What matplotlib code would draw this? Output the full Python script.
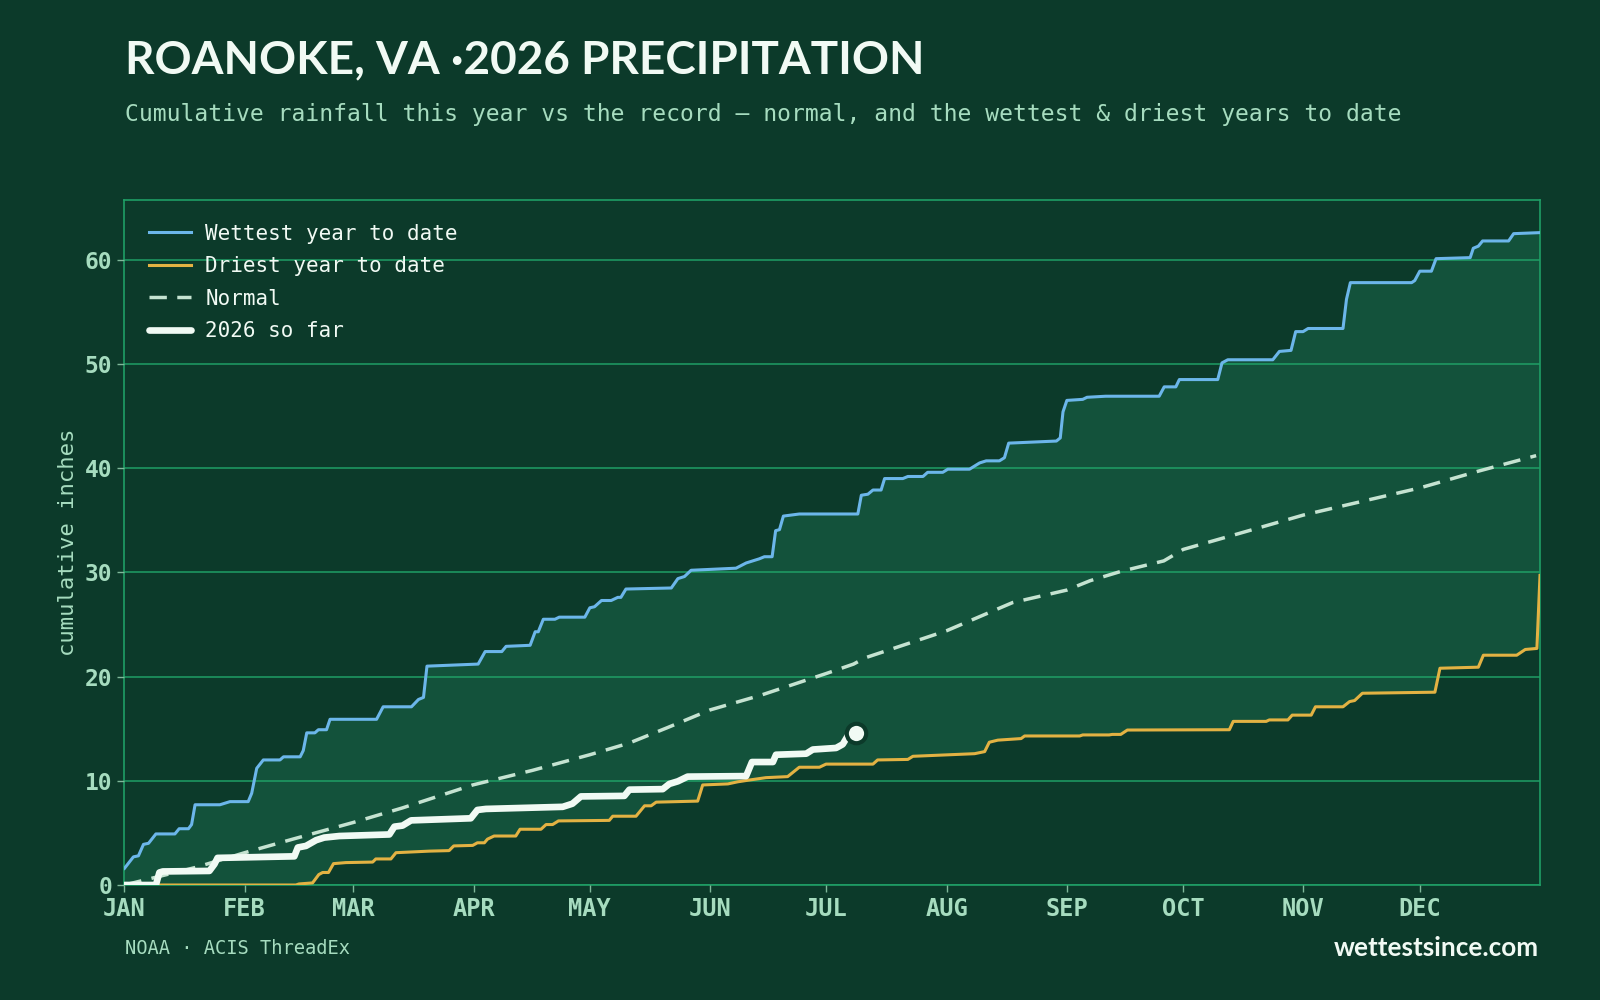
import numpy as np
import matplotlib
matplotlib.use("Agg")
import matplotlib.pyplot as plt

# cumulative inches (day of year, value)
wet_days = [0, 2.3, 3.6, 4.9, 6.2, 8.1, 13.0, 14.1, 16.5, 17.3, 18.2, 24.6, 27.2, 31.9, 32.8, 34.1,
            35.8, 40.1, 41, 45.3, 46.1, 47, 49.1, 50, 52.1, 53, 65, 66.7, 74, 75.8, 77.1, 78, 91.2,
            93, 97.3, 98.4, 104.6, 105.9, 106.7, 108, 111, 112.1, 118.7, 120, 121.2, 123, 125.5,
            127.2, 128, 129.3, 141, 142.7, 144.4, 146.1, 157.7, 160.3, 163.7, 165, 167, 167.9, 168.9,
            169.9, 174, 189.1, 190, 191.7, 193, 195.1, 196, 200.7, 202, 205.9, 207.1, 211, 212.3,
            217.9, 220.5, 222.2, 225.6, 226.9, 228, 240.3, 241.3, 242, 243, 247.1, 248.2, 253, 266.8,
            268.1, 271.1, 272, 281.9, 283, 284.5, 296.1, 297.8, 300.8, 302, 303.9, 305.2, 314.2,
            315.1, 316.1, 331.9, 332.7, 334, 337, 338.2, 347, 347.8, 349.1, 350.2, 356.9, 358.2, 365]
wet_vals = [1.6, 2.7, 2.8, 3.9, 4.0, 4.9, 4.9, 5.4, 5.4, 5.8, 7.7, 7.7, 8.0, 8.0, 8.8, 11.2,
            12.0, 12.0, 12.3, 12.3, 12.9, 14.6, 14.6, 14.9, 14.9, 15.9, 15.9, 17.1, 17.1, 17.8, 18.0, 21.0, 21.2,
            22.4, 22.4, 22.9, 23.0, 24.3, 24.3, 25.5, 25.5, 25.7, 25.7, 26.6, 26.7, 27.3, 27.3,
            27.6, 27.6, 28.4, 28.5, 29.4, 29.6, 30.2, 30.4, 30.9, 31.3, 31.5, 31.5, 34.0, 34.1,
            35.4, 35.6, 35.6, 37.4, 37.5, 37.9, 37.9, 39.0, 39.0, 39.2, 39.2, 39.6, 39.6, 39.9,
            39.9, 40.5, 40.7, 40.7, 41.0, 42.4, 42.6, 42.9, 45.4, 46.5, 46.6, 46.8, 46.9, 46.9,
            47.8, 47.8, 48.5, 48.5, 50.1, 50.4, 50.4, 51.2, 51.3, 53.1, 53.1, 53.4, 53.4,
            56.2, 57.8, 57.8, 58.0, 58.9, 58.9, 60.1, 60.2, 61.1, 61.3, 61.8, 61.8, 62.5, 62.6]

dry_days = [0, 44.2, 45, 48.5, 50.1, 51.1, 52.6, 53.9, 57.1, 64, 64.8, 68.7, 70, 78.6, 83.7, 84.9,
            89.8, 91, 92.8, 93.6, 95.3, 100.9, 102, 107.4, 108.7, 110.4, 111.9, 125, 125.9, 131.9,
            134.1, 135.8, 137.1, 147.8, 149.1, 155.6, 158.1, 160.7, 165.4, 171, 174, 179.2, 180.9,
            193, 194.2, 202, 203.3, 219.2, 221.8, 223, 225.2, 231.2, 232.1, 246.3, 247.1, 253.9,
            254.7, 256.9, 258.6, 284.9, 285.9, 294.4, 295.2, 300, 301.1, 306, 307.1, 314.2, 315.9,
            317.2, 319.2, 337.9, 339.2, 349.1, 350.4, 359, 361.2, 364.2, 365]
dry_vals = [0, 0, 0.1, 0.2, 1.0, 1.2, 1.2, 2.05, 2.15, 2.2, 2.5, 2.5, 3.1, 3.25, 3.3, 3.75,
            3.8, 4.05, 4.05, 4.4, 4.7, 4.7, 5.35, 5.35, 5.8, 5.8, 6.15, 6.2, 6.6, 6.6,
            7.6, 7.6, 7.95, 8.05, 9.6, 9.7, 9.9, 10.05, 10.3, 10.4, 11.3, 11.3, 11.6,
            11.6, 12.0, 12.05, 12.35, 12.6, 12.8, 13.7, 13.9, 14.05, 14.3, 14.3, 14.4, 14.4,
            14.45, 14.45, 14.87, 14.9, 15.7, 15.7, 15.84, 15.84, 16.3, 16.3, 17.1, 17.1, 17.6,
            17.7, 18.4, 18.5, 20.8, 20.9, 22.05, 22.05, 22.6, 22.7, 29.7]

normal_days = [0, 18.5, 31, 43.4, 59, 71.7, 89.8, 105.2, 120, 130, 140, 151, 164, 181, 188, 191,
               212, 229, 243, 249, 257, 268, 273, 289, 304, 319, 334, 349, 364]
normal_vals = [0.0, 1.7, 3.1, 4.4, 6.0, 7.4, 9.6, 11.0, 12.5, 13.6, 15.1, 16.8, 18.2, 20.3, 21.2, 21.8,
               24.4, 27.1, 28.3, 29.2, 30.1, 31.1, 32.2, 33.9, 35.5, 36.8, 38.1, 39.7, 41.2]

cur_days = [0, 8.1, 9, 9.9, 21.9, 23.2, 24, 43.8, 44.7, 46.8, 49.4, 51.5, 55.4, 68.3, 69.6, 71.7,
            73.9, 89.3, 91, 93.2, 113, 115.5, 117.7, 128.9, 130.2, 138.8, 140.5, 142.7, 145.2,
            160.3, 161.8, 167.2, 168, 175.8, 177.5, 183.5, 185.2, 186.5, 188.5]
cur_vals = [0, 0, 1.2, 1.3, 1.35, 2.0, 2.6, 2.75, 3.6, 3.75, 4.3, 4.55, 4.7, 4.85, 5.6, 5.7,
            6.2, 6.4, 7.2, 7.3, 7.5, 7.8, 8.5, 8.55, 9.15, 9.2, 9.7, 9.95, 10.4,
            10.45, 11.8, 11.8, 12.5, 12.6, 13.0, 13.15, 13.5, 14.3, 14.6]

month_starts = [0, 31, 59, 90, 120, 151, 181, 212, 243, 273, 304, 334]
month_labels = ["JAN", "FEB", "MAR", "APR", "MAY", "JUN", "JUL", "AUG", "SEP", "OCT", "NOV", "DEC"]

BG = "#0c3a2a"
BAND = "#13523b"
GRID = "#1f9e66"
MINT = "#a6dcbf"
WHITE = "#f1faf4"
MONO = "DejaVu Sans Mono"
HEAD = "Lato"

fig = plt.figure(figsize=(16, 10), dpi=100, facecolor=BG)
ax = fig.add_axes([0.0778, 0.115, 0.8847, 0.685])
ax.set_facecolor(BG)

# band between driest and wettest
ax.fill(np.concatenate([wet_days, dry_days[::-1]]),
        np.concatenate([wet_vals, dry_vals[::-1]]),
        color=BAND, lw=0, zorder=1)

ax.plot(wet_days, wet_vals, color="#6cb6ea", lw=2.2, zorder=4, label="Wettest year to date")
ax.plot(dry_days, dry_vals, color="#e3b243", lw=2.2, zorder=4, label="Driest year to date")
ax.plot(normal_days, normal_vals, color="#c5e3d1", lw=2.5, dashes=(5, 3), zorder=4, label="Normal")
ax.plot(cur_days, cur_vals, color=WHITE, lw=4.8, zorder=5, solid_capstyle="round",
        solid_joinstyle="round", label="2026 so far")
ax.plot(cur_days[-1:], cur_vals[-1:], "o", ms=14, mfc=WHITE, mec=BG, mew=3, zorder=6)

ax.set_xlim(0, 365)
ax.set_ylim(0, max(wet_vals) * 1.05)
ax.set_yticks([0, 10, 20, 30, 40, 50, 60])
ax.set_xticks(month_starts)
ax.set_xticklabels(month_labels)
ax.grid(axis="y", color=GRID, lw=1.1, zorder=2)
ax.grid(axis="x", visible=False)
ax.set_axisbelow(False)
for s in ax.spines.values():
    s.set_color(GRID)
    s.set_linewidth(1.2)
ax.tick_params(colors="#7fb89a", length=5, width=1, pad=4)
for lab in ax.get_xticklabels() + ax.get_yticklabels():
    lab.set_family(MONO)
    lab.set_weight("bold")
    lab.set_color(MINT)
for lab in ax.get_xticklabels():
    lab.set_fontsize(17)
for lab in ax.get_yticklabels():
    lab.set_fontsize(16.5)
ax.set_ylabel("cumulative inches", family=MONO, fontsize=16, color=MINT, labelpad=5)

leg = ax.legend(loc="upper left", bbox_to_anchor=(0.004, 0.993), frameon=False,
                prop={"family": MONO, "size": 15}, handlelength=2.0, handletextpad=0.7,
                labelspacing=0.6, labelcolor=WHITE)

fig.text(0.078, 0.927, "ROANOKE, VA \u00b72026 PRECIPITATION", family=HEAD, weight="bold",
         fontsize=33, color=WHITE, va="baseline")
fig.text(0.078, 0.885, "Cumulative rainfall this year vs the record \u2014 normal, and the wettest & driest years to date",
         family=MONO, fontsize=16.6, color=MINT, va="center")
fig.text(0.078, 0.052, "NOAA \u00b7 ACIS ThreadEx", family=MONO, fontsize=13.5, color=MINT, va="center")
fig.text(0.9615, 0.052, "wettestsince.com", family=HEAD, weight="bold", fontsize=18.8,
         color=WHITE, ha="right", va="center")

fig.savefig("out.png", dpi=100, facecolor=BG)
